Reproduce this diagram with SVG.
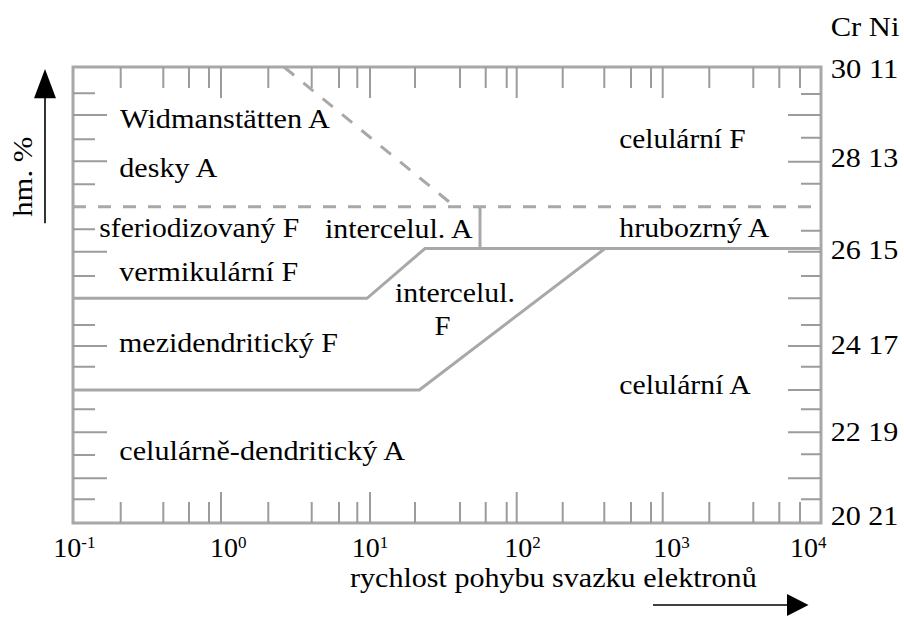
<svg xmlns="http://www.w3.org/2000/svg" width="904" height="624" viewBox="0 0 904 624">
  <style>
    text { font-family: 'Liberation Serif', 'DejaVu Serif', 'Times New Roman', Times, serif; fill: #000; }
    .t { font-size: 28px; }
    .frame { fill: none; stroke: #a8a8a8; stroke-width: 3; }
    .tick { stroke: #9c9c9c; stroke-width: 2; fill: none; }
    .bound { stroke: #a8a8a8; stroke-width: 3; fill: none; stroke-linejoin: miter; }
    .dash { stroke: #a8a8a8; stroke-width: 3; fill: none; stroke-dasharray: 13 12; }
    .arr { stroke: #000; stroke-width: 1.6; fill: none; }
  </style>

  <rect id="white-bg" x="0" y="0" width="904" height="624" fill="#fff"/>

  <!-- axes frame and ticks -->
  <g id="axes">
    <rect class="frame" x="73" y="67" width="748" height="456"/>
    <path class="tick" d="
      M120.7 67V88 M163.3 67V88 M189 67V88 M209 67V88 M221 67V98
      M268.3 67V88 M311.7 67V88 M339 67V88 M357.3 67V88 M370 67V98
      M415 67V88 M460 67V88 M485.7 67V88 M506.7 67V88 M516.7 67V98
      M562.7 67V88 M604.3 67V88 M631 67V88 M651 67V88 M662.7 67V98
      M709.3 67V88 M753.3 67V88 M779.3 67V88 M800 67V88
      M120.7 523V502 M163.3 523V502 M189 523V502 M209 523V502 M221 523V492
      M268.3 523V502 M311.7 523V502 M339 523V502 M357.3 523V502 M370 523V492
      M415 523V502 M460 523V502 M485.7 523V502 M506.7 523V502 M516.7 523V492
      M562.7 523V502 M604.3 523V502 M631 523V502 M651 523V502 M662.7 523V492
      M709.3 523V502 M753.3 523V502 M779.3 523V502 M800 523V502
      M73 93.3H95 M73 139.3H95 M73 184.3H95 M73 229.3H95 M73 276H95 M73 325H95
      M73 366.7H95 M73 409.3H95 M73 455H95 M73 499.3H95
      M73 115H107 M73 161.3H107 M73 251.7H107 M73 346H107 M73 432.3H107 M73 478.3H107
      M821 94H801 M821 137.7H801 M821 183.7H801 M821 230.7H801 M821 276H801 M821 325H801
      M821 366.7H801 M821 409.3H801 M821 454.3H801 M821 499.3H801
      M821 115H788 M821 161.7H788 M821 251.7H788 M821 298.3H788 M821 346H788
      M821 390H788 M821 432.3H788 M821 478.3H788"/>
  </g>

  <!-- region boundaries -->
  <g id="connectors">
    <line class="dash" x1="73" y1="206.7" x2="821" y2="206.7"/>
    <line class="dash" x1="284" y1="67" x2="455" y2="206.7"/>
    <line class="bound" x1="480" y1="206.7" x2="480" y2="248.5"/>
    <polyline class="bound" points="821,248.5 425,248.5 367,298.3 73,298.3"/>
    <polyline class="bound" points="821,248.5 605,248.5 419.3,390 73,390"/>
  </g>

  <!-- region labels -->
  <g id="widmanstatten"><text class="t" x="120" y="128" textLength="210" lengthAdjust="spacingAndGlyphs">Widmanstätten A</text></g>
  <g id="desky"><text class="t" x="119.3" y="176.7" textLength="98" lengthAdjust="spacingAndGlyphs">desky A</text></g>
  <g id="celularni-f"><text class="t" x="619.3" y="148.3" textLength="126.4" lengthAdjust="spacingAndGlyphs">celulární F</text></g>
  <g id="sferiodizovany"><text class="t" x="99.3" y="236.7" textLength="200" lengthAdjust="spacingAndGlyphs">sferiodizovaný F</text></g>
  <g id="intercelul-a"><text class="t" x="325" y="238.3" textLength="147.7" lengthAdjust="spacingAndGlyphs">intercelul. A</text></g>
  <g id="hrubozrny"><text class="t" x="619.3" y="236.7" textLength="150" lengthAdjust="spacingAndGlyphs">hrubozrný A</text></g>
  <g id="vermikularni"><text class="t" x="119.3" y="281" textLength="179" lengthAdjust="spacingAndGlyphs">vermikulární F</text></g>
  <g id="intercelul-f">
    <text class="t" x="395" y="301.7" textLength="120" lengthAdjust="spacingAndGlyphs">intercelul.</text>
    <text class="t" x="434.5" y="335" textLength="16" lengthAdjust="spacingAndGlyphs">F</text>
  </g>
  <g id="mezidendriticky"><text class="t" x="119" y="351.7" textLength="219" lengthAdjust="spacingAndGlyphs">mezidendritický F</text></g>
  <g id="celularni-a"><text class="t" x="619.3" y="394.3" textLength="131.4" lengthAdjust="spacingAndGlyphs">celulární A</text></g>
  <g id="celularne-dendriticky"><text class="t" x="119.3" y="460" textLength="285.7" lengthAdjust="spacingAndGlyphs">celulárně-dendritický A</text></g>

  <!-- right axis labels -->
  <g id="right-axis">
    <text class="t" x="830.7" y="35.7" textLength="68.7" lengthAdjust="spacingAndGlyphs">Cr Ni</text>
    <text class="t" x="830.7" y="78.3" textLength="67.7" lengthAdjust="spacingAndGlyphs">30 11</text>
    <text class="t" x="830.7" y="166.7" textLength="67.7" lengthAdjust="spacingAndGlyphs">28 13</text>
    <text class="t" x="830.7" y="259.3" textLength="67.7" lengthAdjust="spacingAndGlyphs">26 15</text>
    <text class="t" x="830.7" y="354" textLength="67.7" lengthAdjust="spacingAndGlyphs">24 17</text>
    <text class="t" x="830.7" y="440.7" textLength="67.7" lengthAdjust="spacingAndGlyphs">22 19</text>
    <text class="t" x="830.7" y="525" textLength="67.7" lengthAdjust="spacingAndGlyphs">20 21</text>
  </g>

  <!-- bottom axis labels -->
  <g id="bottom-axis">
    <text class="t" x="53.3" y="557">10<tspan font-size="17" dy="-9.5">-1</tspan></text>
    <text class="t" x="210" y="557">10<tspan font-size="17" dy="-9.5">0</tspan></text>
    <text class="t" x="351.7" y="557">10<tspan font-size="17" dy="-9.5">1</tspan></text>
    <text class="t" x="504.3" y="557">10<tspan font-size="17" dy="-9.5">2</tspan></text>
    <text class="t" x="653.3" y="557">10<tspan font-size="17" dy="-9.5">3</tspan></text>
    <text class="t" x="790" y="557">10<tspan font-size="17" dy="-9.5">4</tspan></text>
  </g>

  <!-- axis titles and arrows -->
  <g id="x-title">
    <text class="t" x="350" y="587" textLength="406.7" lengthAdjust="spacingAndGlyphs">rychlost pohybu svazku elektronů</text>
    <line class="arr" x1="653" y1="605" x2="788" y2="605"/>
    <polygon points="808.5,605 787,594 787,616" fill="#000"/>
  </g>
  <g id="y-title">
    <text class="t" transform="translate(32,176.7) rotate(-90)" x="0" y="0" text-anchor="middle" textLength="80" lengthAdjust="spacingAndGlyphs">hm. %</text>
    <line class="arr" x1="45" y1="97" x2="45" y2="223.3"/>
    <polygon points="45,69 34,98.3 56,98.3" fill="#000"/>
  </g>
</svg>
